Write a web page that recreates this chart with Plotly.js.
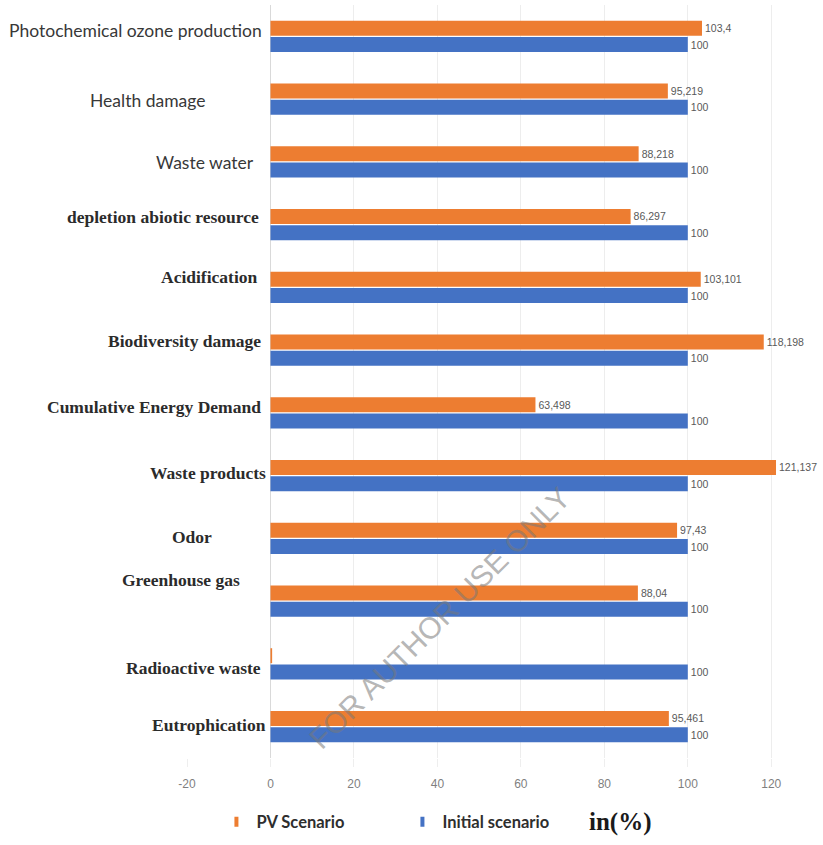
<!DOCTYPE html>
<html>
<head>
<meta charset="utf-8">
<script src="https://cdn.plot.ly/plotly-3.0.1.min.js"></script>
<style>html,body{margin:0;padding:0;background:#fff;}#chart{width:823px;height:845px;}</style>
</head>
<body>
<div id="chart"></div>
<script>
// ---- data ----
const categories = [
  "Photochemical ozone production", "Health damage", "Waste water",
  "depletion abiotic resource", "Acidification", "Biodiversity damage",
  "Cumulative Energy Demand", "Waste products", "Odor", "Greenhouse gas",
  "Radioactive waste", "Eutrophication"
];
const pvScenario = [103.4, 95.219, 88.218, 86.297, 103.101, 118.198, 63.498, 121.137, 97.43, 88.04, 0.4, 95.461];
const pvLabels = ["103,4", "95,219", "88,218", "86,297", "103,101", "118,198", "63,498", "121,137", "97,43", "88,04", "", "95,461"];
const initialScenario = [100, 100, 100, 100, 100, 100, 100, 100, 100, 100, 100, 100];
const initialLabels = ["100", "100", "100", "100", "100", "100", "100", "100", "100", "100", "100", "100"];
const xTicks = [-20, 0, 20, 40, 60, 80, 100, 120];
const seriesNames = ["PV Scenario", "Initial scenario"];
const unitLabel = "in(%)";
const watermark = "FOR AUTHOR USE ONLY";

// ---- style ----
const colors = ["#ED7D31", "#4472C4"];
const labelStyle = [ // [serif?, xshift, yshift]
  [false, -6, 6], [false, -63, -1], [false, -14, -1], [true, -9, 8],
  [true, -10, 10], [true, -7, 9], [true, -7, 6], [true, -2, 3],
  [true, -56, 1], [true, -28, 21], [true, -7, -4], [true, -2, 2]
];
const sansFont = "Lato, 'Open Sans', sans-serif";
const serifFont = "'Liberation Serif', 'DejaVu Serif', serif";
const narrowFont = "'Liberation Sans Narrow', 'Arial Narrow', 'Liberation Sans', sans-serif";

const barTraces = [pvScenario, initialScenario].map((vals, k) => ({
  type: "bar", orientation: "h", name: seriesNames[k], showlegend: false,
  y: categories, x: vals, text: k === 0 ? pvLabels : initialLabels,
  textposition: "outside", cliponaxis: false, constraintext: "none",
  textfont: {family: narrowFont, size: 10.5, color: "#595959"},
  marker: {color: colors[k]}, hoverinfo: "x+y"
}));
const legendTraces = seriesNames.map((n, k) => ({
  type: "scatter", mode: "markers", name: n, x: [null], y: [null],
  marker: {symbol: "line-ns", size: 7, line: {color: colors[k], width: 4}}
}));

const annotations = categories.map((c, i) => ({
  xref: "x", yref: "y", x: 0, y: c,
  xanchor: "right", yanchor: "middle",
  xshift: labelStyle[i][1], yshift: labelStyle[i][2],
  text: c, showarrow: false,
  font: labelStyle[i][0]
    ? {family: serifFont, size: 17.5, color: "#2b2b2b", weight: "bold"}
    : {family: sansFont, size: 17.5, color: "#383838"}
}));
annotations.push({
  xref: "paper", yref: "paper", x: 0.693, y: -0.085,
  xanchor: "center", yanchor: "middle", showarrow: false,
  text: unitLabel,
  font: {family: serifFont, size: 25, color: "#1a1a1a", weight: "bold"}
});
annotations.push({
  xref: "paper", yref: "paper", x: 0.404, y: 0.187,
  xanchor: "center", yanchor: "middle", showarrow: false,
  text: watermark, textangle: -45,
  font: {family: "'Liberation Sans', sans-serif", size: 30, color: "rgba(120,120,120,0.55)"}
});

const layout = {
  width: 823, height: 845,
  margin: {l: 187, r: 10, t: 5, b: 80},
  paper_bgcolor: "#ffffff", plot_bgcolor: "#ffffff",
  barmode: "group", bargap: 0.48, bargroupgap: 0.08,
  showlegend: true,
  legend: {
    orientation: "h", x: 0.047, y: -0.085, xanchor: "left", yanchor: "middle",
    font: {family: sansFont, size: 16.5, color: "#2e2e2e", weight: "bold"},
    entrywidth: 141, itemwidth: 30, traceorder: "normal"
  },
  xaxis: {
    range: [-20, 130], tickvals: xTicks, ticktext: xTicks.map(String),
    showgrid: true, gridcolor: "#ededed", gridwidth: 1,
    zeroline: true, zerolinecolor: "#d9d9d9", zerolinewidth: 1.5,
    showline: false, ticks: "outside", ticklen: 8, tickcolor: "#eeeeee",
    ticklabelstandoff: 7,
    tickfont: {family: narrowFont, size: 12, color: "#7f7f7f"},
    fixedrange: true
  },
  yaxis: {
    type: "category", autorange: "reversed",
    showticklabels: false, showgrid: false, zeroline: false, showline: false,
    fixedrange: true
  },
  annotations: annotations
};

Plotly.newPlot("chart", barTraces.concat(legendTraces), layout, {displayModeBar: false, staticPlot: true});
</script>
</body>
</html>
